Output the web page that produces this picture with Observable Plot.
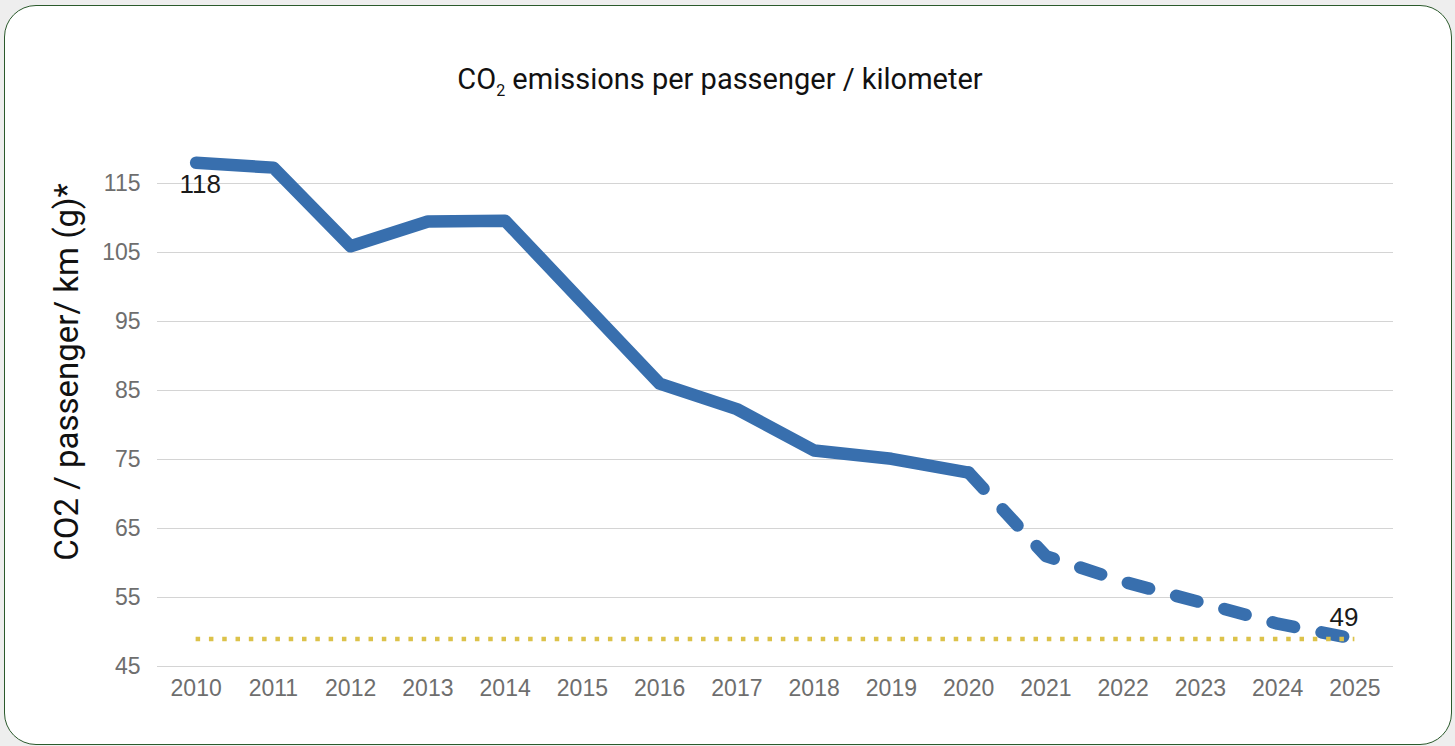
<!DOCTYPE html>
<html>
<head>
<meta charset="utf-8">
<script src="https://cdn.jsdelivr.net/npm/d3@7"></script>
<script src="https://cdn.jsdelivr.net/npm/@observablehq/plot@0.6"></script>
<style>
  html, body { margin: 0; padding: 0; background: #eeeeee; width: 1455px; height: 746px; overflow: hidden; }
  .card {
    position: absolute; left: 4px; top: 5px; width: 1446px; height: 738px;
    border: 1.5px solid #2b5a2c; border-radius: 32px; background: #ffffff;
  }
  .title {
    position: absolute; left: 720px; top: 62px; transform: translateX(-50%);
    font-family: Roboto, sans-serif; font-size: 29px; color: #111; white-space: nowrap;
  }
  .title sub { font-size: 16px; vertical-align: -7px; line-height: 0; }
  .ylabel {
    position: absolute; left: 66px; top: 372px; transform: translate(-50%, -50%) rotate(-90deg);
    font-family: Roboto, sans-serif; font-size: 33px; color: #111; white-space: nowrap;
  }
  #chart { position: absolute; left: 0; top: 0; }
  #chart svg { overflow: visible; }
</style>
</head>
<body>
<div class="card"></div>
<div class="title">CO<sub>2</sub> emissions per passenger / kilometer</div>
<div class="ylabel">CO2 / passenger/ km (g)*</div>
<div id="chart"></div>
<script>
// Grams of CO2 per passenger-kilometre; 2010–2020 measured, 2021–2025 projected
const years = [2010, 2011, 2012, 2013, 2014, 2015, 2016, 2017, 2018, 2019, 2020, 2021, 2022, 2023, 2024, 2025];
const emissions = [118, 117.3, 105.9, 109.5, 109.6, 97.8, 86, 82.3, 76.3, 75.1, 73.1, 61, 57.3, 54.3, 51.2, 49];
const actualUntil = 2020;
const target = 49;
const yTicks = [45, 55, 65, 75, 85, 95, 105, 115];

const rows = years.map((year, i) => ({year, value: emissions[i]}));
const actual = rows.filter(d => d.year <= actualUntil);
const projected = rows.filter(d => d.year >= actualUntil);
const first = rows[0];
const last = rows[rows.length - 1];

const blue = "#386fae";

const chart = Plot.plot({
  width: 1455,
  height: 746,
  marginLeft: 157,
  marginRight: 62,
  marginTop: 183,
  marginBottom: 80,
  style: {fontFamily: "'Liberation Sans', Arial, sans-serif", background: "transparent", overflow: "visible"},
  x: {domain: [2009.5, 2025.5]},
  y: {domain: [45, 115]},
  marks: [
    Plot.gridY(yTicks, {stroke: "#d4d4d4", strokeOpacity: 1, strokeWidth: 1.2}),
    Plot.axisY(yTicks, {tickSize: 0, tickPadding: 17, fontSize: 23, fill: "#6e6e6e", label: null}),
    Plot.axisX(years, {tickSize: 0, tickPadding: 13, fontSize: 23, fill: "#6e6e6e", label: null, tickFormat: d => String(d)}),
    Plot.line(actual, {x: "year", y: "value", stroke: blue, strokeWidth: 12.5, strokeLinecap: "round", strokeLinejoin: "round"}),
    Plot.line(projected, {x: "year", y: "value", stroke: blue, strokeWidth: 12.5, strokeLinecap: "round", strokeLinejoin: "round", strokeDasharray: "22,28"}),
    Plot.ruleY([target], {x1: years[0], x2: years[years.length - 1], stroke: "#dcc24a", strokeWidth: 4.5, strokeDasharray: "4.5,8.8"}),
    Plot.text([first], {x: "year", y: "value", text: d => String(d.value), dx: 4, dy: 22, fontSize: 26, fill: "#1a1a1a"}),
    Plot.text([last], {x: "year", y: "value", text: d => String(d.value), dx: -11, dy: -21, fontSize: 26, fill: "#1a1a1a"})
  ]
});
document.getElementById("chart").appendChild(chart);
</script>
</body>
</html>
